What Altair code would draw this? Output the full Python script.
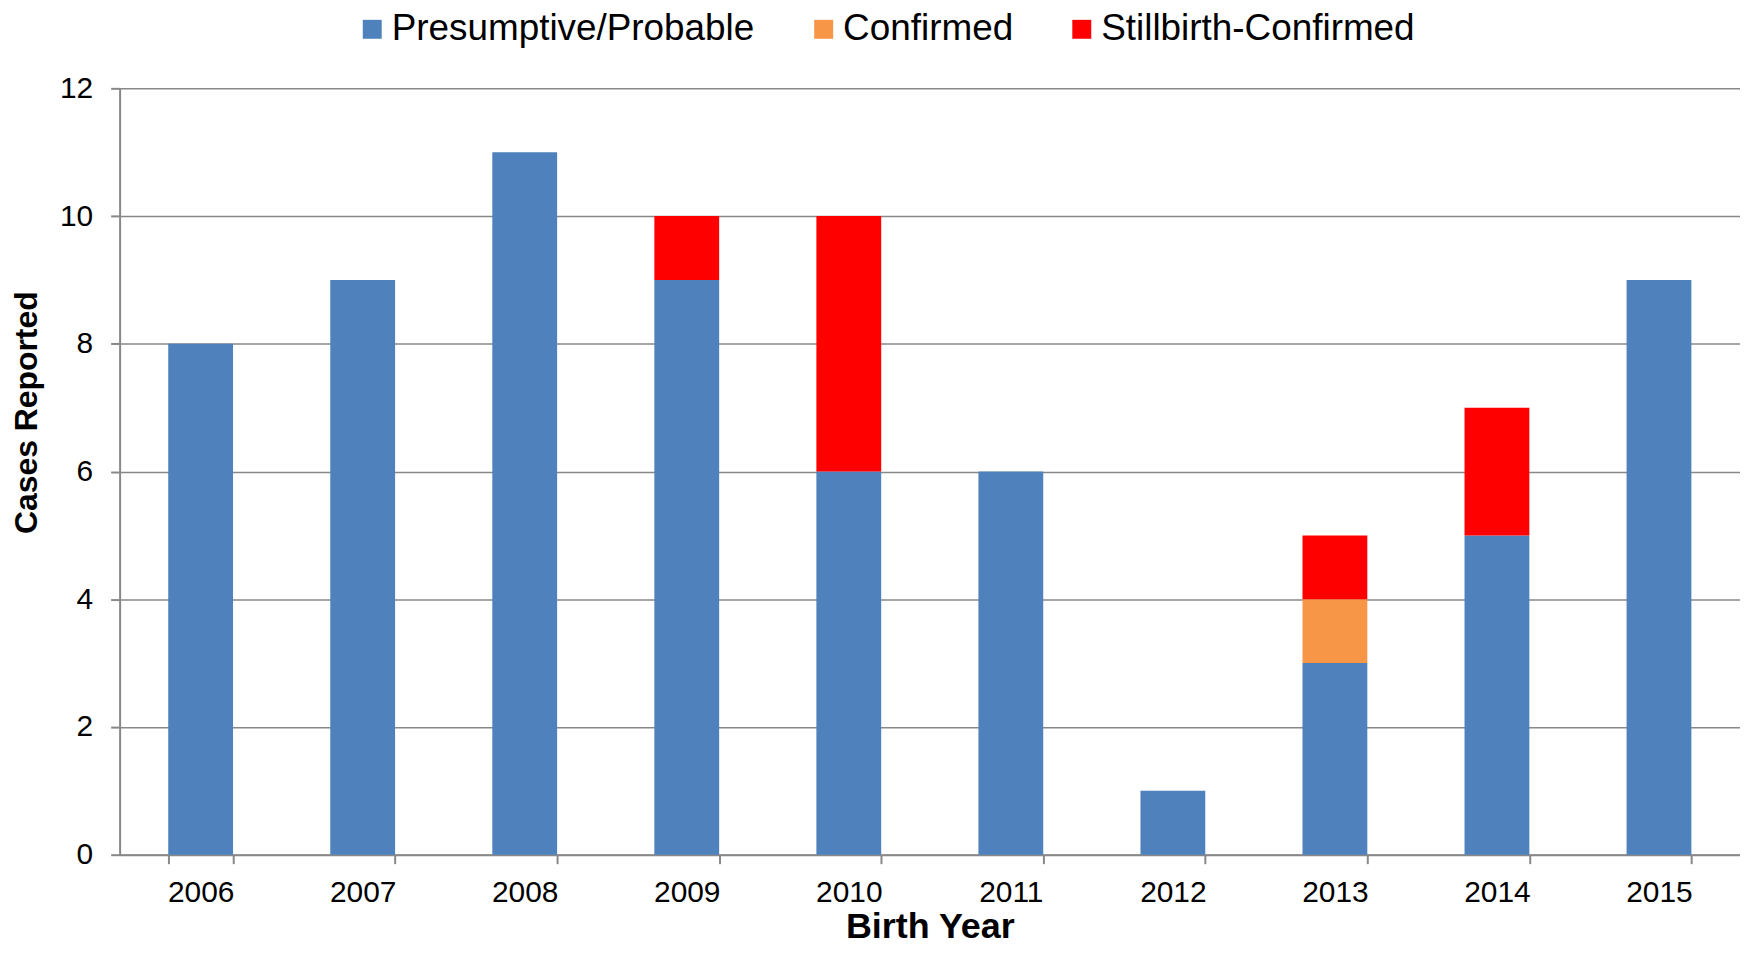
import altair as alt
import pandas as pd

years = ["2006", "2007", "2008", "2009", "2010", "2011", "2012", "2013", "2014", "2015"]
series_names = ["Presumptive/Probable", "Confirmed", "Stillbirth-Confirmed"]
presumptive = [8, 9, 11, 9, 6, 6, 1, 3, 5, 9]
confirmed = [0, 0, 0, 0, 0, 0, 0, 1, 0, 0]
stillbirth = [0, 0, 0, 1, 4, 0, 0, 1, 2, 0]
colors = ["#4F81BD", "#F79646", "#FF0000"]
y_ticks = [0, 2, 4, 6, 8, 10, 12]

rows = []
for i, s in enumerate([presumptive, confirmed, stillbirth]):
    for y, v in zip(years, s):
        if v > 0:
            rows.append({"year": y, "series": series_names[i], "order": i, "cases": v})
df = pd.DataFrame(rows)

FONT = "Liberation Sans"

chart = alt.Chart(df).mark_bar().encode(
    x=alt.X(
        "year:N",
        sort=years,
        scale=alt.Scale(paddingInner=0.6, paddingOuter=0.3),
        axis=alt.Axis(
            title="Birth Year",
            labelAngle=0,
            tickBand="extent",
            grid=False,
            labelFontSize=30,
            labelPadding=14,
            tickSize=9,
            titleFontSize=36,
            titlePadding=2,
        ),
    ),
    y=alt.Y(
        "cases:Q",
        stack="zero",
        scale=alt.Scale(domain=[0, 12], nice=False),
        axis=alt.Axis(
            title="Cases Reported",
            values=y_ticks,
            grid=True,
            labelFontSize=30,
            labelPadding=18,
            tickSize=9,
            titleFontSize=32,
            titlePadding=16,
            titleY=325,
        ),
    ),
    color=alt.Color(
        "series:N",
        scale=alt.Scale(domain=series_names, range=colors),
        legend=alt.Legend(
            title=None,
            orient="none",
            direction="horizontal",
            legendX=235,
            legendY=-78,
            symbolType="square",
            symbolSize=361,
            symbolStrokeWidth=0,
            labelFontSize=37,
            labelOffset=1,
            columnPadding=50,
            labelLimit=1000,
            padding=0,
        ),
    ),
    order=alt.Order("order:Q", sort="ascending"),
).properties(
    width=1626,
    height=769,
    autosize=alt.AutoSizeParams(type="none"),
    padding={"left": 112, "top": 79, "right": 0, "bottom": 89},
).configure_view(
    stroke=None
).configure_axis(
    labelFont=FONT,
    titleFont=FONT,
    labelColor="#000000",
    titleColor="#000000",
    titleFontWeight="bold",
    domainColor="#888888",
    domainWidth=2,
    tickColor="#888888",
    tickWidth=2,
    gridColor="#888888",
    gridWidth=1.5,
).configure_legend(
    labelFont=FONT,
    labelColor="#000000",
)

chart.save("out.html", embed_options={"renderer": "svg", "actions": False})
